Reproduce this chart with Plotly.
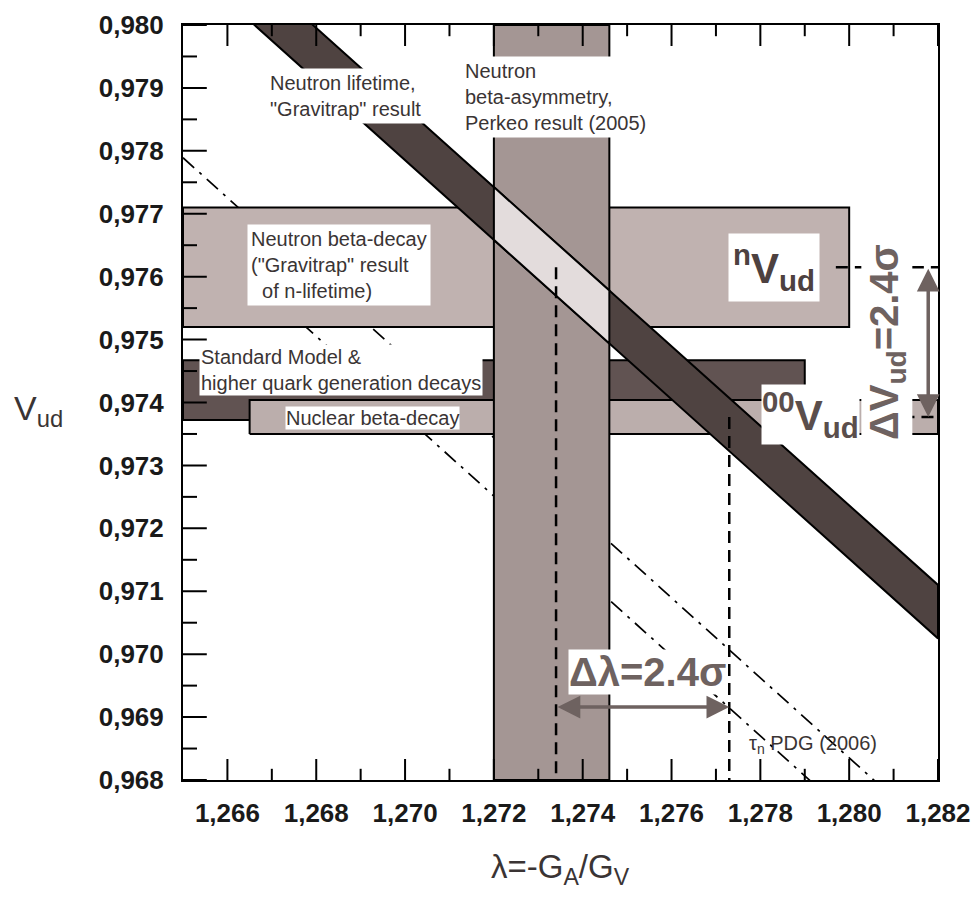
import numpy as np
import plotly.graph_objects as go

# ---------------- data ----------------
x_range = [1.265, 1.282]
y_range = [0.968, 0.980]

# tick positions (major ones carry labels)
x_major = [1.266, 1.268, 1.270, 1.272, 1.274, 1.276, 1.278, 1.280, 1.282]
x_minor = [1.267, 1.269, 1.271, 1.273, 1.275, 1.277, 1.279, 1.281]
y_major = [0.968, 0.969, 0.970, 0.971, 0.972, 0.973, 0.974, 0.975, 0.976, 0.977,
           0.978, 0.979, 0.980]
y_minor = [0.9685, 0.9695, 0.9705, 0.9715, 0.9725, 0.9735, 0.9745, 0.9755, 0.9765,
           0.9775, 0.9785, 0.9795]

# Neutron beta-asymmetry, Perkeo (2005): lambda band
perkeo_lambda = [1.2720, 1.2746]

# Neutron lifetime "Gravitrap" band: boundary lines at the lambda end points
grav_lambda = [1.265, 1.282]
grav_v_upper = [0.98185, 0.97110]
grav_v_lower = [0.98102, 0.97025]

# Neutron beta-decay ("Gravitrap" result of n-lifetime) Vud band
nvud_lambda = [1.265, 1.280]
nvud_band = [0.97520, 0.97710]

# Standard Model & higher quark generation decays
sm_lambda = [1.265, 1.279]
sm_band = [0.97372, 0.97467]

# Nuclear beta-decay
nuc_lambda = [1.2665, 1.282]
nuc_band = [0.97350, 0.97404]

# tau_n PDG (2006) dash-dot lines
pdg_lambda = [1.265, 1.282]
pdg_a = [0.97789, 0.96708]
pdg_b = [0.97696, 0.96616]

# central values used for the 2.4 sigma comparison
n_vud = 0.97615
oo_vud = 0.97377
lam_n = 1.2734
lam_oo = 1.2773
dlam_arrow_v = 0.96916
dvud_arrow_lam = 1.28178
n_dash_start = 1.2797
oo_dash_start = 1.2812

# ---------------- style ----------------
C_PERKEO = "#a49694"
C_NVUD = "#c0b2b0"
C_SM = "#615352"
C_NUC = "#bbaeac"
C_GRAV = "#4f4341"
C_OVER = "#e3dcdc"
C_ANN = "#6e6260"
FONT = "Liberation Sans, Arial, sans-serif"
TXT = "#3a3434"

fig = go.Figure()


def rect(lams, vals, color):
    return go.Scatter(
        x=[lams[0], lams[1], lams[1], lams[0], lams[0]],
        y=[vals[0], vals[0], vals[1], vals[1], vals[0]],
        mode="lines", fill="toself", fillcolor=color,
        line=dict(color="black", width=2), hoverinfo="skip", showlegend=False)


# dash-dot PDG lines (underneath everything)
for v in (pdg_a, pdg_b):
    fig.add_trace(go.Scatter(x=pdg_lambda, y=v, mode="lines",
                             line=dict(color="black", width=1.7, dash="15px,7px,3px,7px"),
                             hoverinfo="skip", showlegend=False))

fig.add_trace(rect(nvud_lambda, nvud_band, C_NVUD))
fig.add_trace(rect(sm_lambda, sm_band, C_SM))
fig.add_trace(rect(nuc_lambda, nuc_band, C_NUC))
fig.add_trace(rect(perkeo_lambda, y_range, C_PERKEO))

# Gravitrap band
fig.add_trace(go.Scatter(
    x=[grav_lambda[0], grav_lambda[1], grav_lambda[1], grav_lambda[0], grav_lambda[0]],
    y=[grav_v_lower[0], grav_v_lower[1], grav_v_upper[1], grav_v_upper[0], grav_v_lower[0]],
    mode="lines", fill="toself", fillcolor=C_GRAV,
    line=dict(color="black", width=2), hoverinfo="skip", showlegend=False))

# overlap of the Gravitrap band with the Perkeo band
up_p = np.interp(perkeo_lambda, grav_lambda, grav_v_upper)
lo_p = np.interp(perkeo_lambda, grav_lambda, grav_v_lower)
fig.add_trace(go.Scatter(
    x=[perkeo_lambda[0], perkeo_lambda[1], perkeo_lambda[1], perkeo_lambda[0], perkeo_lambda[0]],
    y=[lo_p[0], lo_p[1], up_p[1], up_p[0], lo_p[0]],
    mode="lines", fill="toself", fillcolor=C_OVER,
    line=dict(color="black", width=2), hoverinfo="skip", showlegend=False))

# dashed guide lines
dash = dict(color="black", width=2.5, dash="12px,7px")
fig.add_trace(go.Scatter(x=[lam_n, lam_n], y=[n_vud, y_range[0]], mode="lines",
                         line=dash, hoverinfo="skip", showlegend=False))
fig.add_trace(go.Scatter(x=[lam_oo, lam_oo], y=[oo_vud, y_range[0]], mode="lines",
                         line=dash, hoverinfo="skip", showlegend=False))
fig.add_trace(go.Scatter(x=[n_dash_start, x_range[1]], y=[n_vud, n_vud], mode="lines",
                         line=dash, hoverinfo="skip", showlegend=False))
fig.add_trace(go.Scatter(x=[oo_dash_start, x_range[1]], y=[oo_vud, oo_vud], mode="lines",
                         line=dash, hoverinfo="skip", showlegend=False))


# inward tick marks, drawn on top of the bands (half of each line marker is clipped
# away by the plot area, leaving only the inner half)
def tickmarks(xs, ys, symbol, size):
    return go.Scatter(x=xs, y=ys, mode="markers", cliponaxis=True,
                      marker=dict(symbol=symbol, size=size, color="black",
                                  line=dict(width=2, color="black")),
                      hoverinfo="skip", showlegend=False)


for edge in y_range:
    fig.add_trace(tickmarks(x_major, [edge] * len(x_major), "line-ns", 30))
    fig.add_trace(tickmarks(x_minor, [edge] * len(x_minor), "line-ns", 16))
fig.add_trace(tickmarks([x_range[0]] * len(y_major), y_major, "line-ew", 34))
fig.add_trace(tickmarks([x_range[0]] * len(y_minor), y_minor, "line-ew", 20))

ann = []


def label(text, x, y, size=20, color=TXT, bg="white", bold=False, align="left",
          xanchor="center", yanchor="middle", angle=0, pad=3):
    ann.append(dict(text=text, x=x, y=y, xref="x", yref="y", showarrow=False,
                    font=dict(family=FONT, size=size, color=color,
                              weight="bold" if bold else "normal"),
                    bgcolor=bg, align=align, xanchor=xanchor, yanchor=yanchor,
                    textangle=angle, borderpad=pad))


label('Neutron lifetime,<br>"Gravitrap" result', 1.26865, 0.97887)
label('Neutron<br>beta-asymmetry,<br>Perkeo result (2005)', 1.27338, 0.97886)
label('Neutron beta-decay<br>("Gravitrap" result<br>\u00a0\u00a0of n-lifetime)', 1.26851, 0.97619)
label('Standard Model &<br>higher quark generation decays', 1.26856, 0.97452, pad=1)
label('Nuclear beta-decay', 1.26926, 0.97375, pad=0)
label('<sup>n</sup>V<sub>ud</sub>', 1.27831, 0.97614, size=42, color="#4d4140", bold=True, pad=4)
label('<sup>00</sup>V<sub>ud</sub>', 1.27912, 0.97381, size=42, color="#5a4e4c", bold=True, pad=0)
label('\u0394V<sub>ud</sub>=2.4\u03c3', 1.28085, 0.97496, size=40, color=C_ANN, bold=True,
      angle=-90, pad=0)
label('\u0394\u03bb=2.4\u03c3', 1.27547, 0.96972, size=40, color=C_ANN, bold=True, pad=0)
label('\u03c4<sub>n</sub> PDG (2006)', 1.27765, 0.96856, bg="rgba(0,0,0,0)", xanchor="left")

# double-headed arrows
for (hx, hy, tx, ty) in ((lam_oo, dlam_arrow_v, lam_n, dlam_arrow_v),
                         (dvud_arrow_lam, oo_vud, dvud_arrow_lam, n_vud)):
    ann.append(dict(x=hx, y=hy, ax=tx, ay=ty, xref="x", yref="y", axref="x", ayref="y",
                    text="", showarrow=True, arrowside="end+start", arrowhead=2,
                    arrowsize=1.3, arrowwidth=3.5, arrowcolor=C_ANN, standoff=0,
                    startstandoff=0))

# axis titles
ann.append(dict(text="V<sub>ud</sub>", x=-0.2265, y=0.49, xref="paper", yref="paper",
                xanchor="left", yanchor="middle", showarrow=False,
                font=dict(family=FONT, size=34, color=TXT)))
ann.append(dict(text="\u03bb=-G<sub>A</sub>/G<sub>V</sub>", x=0.5, y=-0.118, xref="paper",
                yref="paper", xanchor="center", yanchor="middle", showarrow=False,
                font=dict(family=FONT, size=33, color=TXT)))

tickfont = dict(family=FONT, size=26, color="#1a1a1a", weight="bold")

fig.update_layout(
    width=972, height=889,
    margin=dict(l=175, r=42, t=17, b=117, autoexpand=False),
    paper_bgcolor="white", plot_bgcolor="rgba(0,0,0,0)",
    separators=",.",
    annotations=ann,
    showlegend=False,
    xaxis=dict(range=x_range, tickmode="array", tickvals=x_major, tickformat=".3f",
               ticks="", showline=True, linecolor="black", linewidth=2, mirror=True,
               showgrid=False, zeroline=False, tickfont=tickfont, automargin=False,
               ticklabelstandoff=9),
    yaxis=dict(range=y_range, tickmode="array", tickvals=y_major, tickformat=".3f",
               ticks="", showline=True, linecolor="black", linewidth=2, mirror=True,
               showgrid=False, zeroline=False, tickfont=tickfont, ticklabelstandoff=12,
               automargin=False),
)

fig.write_html("out.html")
